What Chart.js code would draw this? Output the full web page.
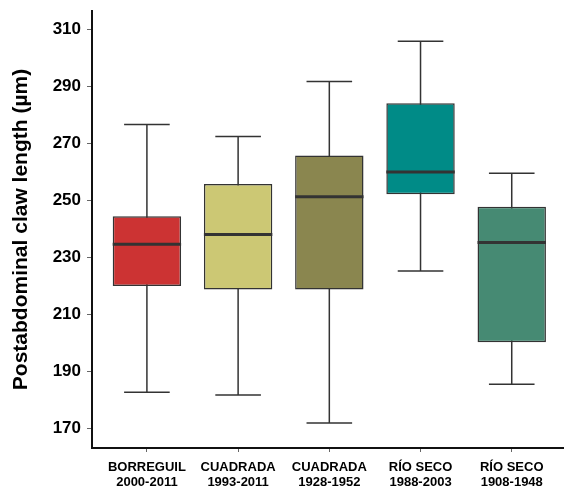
<!DOCTYPE html>
<html>
<head>
<meta charset="utf-8">
<script src="https://cdn.jsdelivr.net/npm/chart.js@4"></script>
<style>
  html, body { margin: 0; padding: 0; background: #fff; }
  #wrap { width: 564px; height: 490px; }
</style>
</head>
<body>
<div id="wrap"><canvas id="chart"></canvas></div>
<script>
// groups (two-line tick labels)
const categories = [
  ["BORREGUIL", "2000-2011"],
  ["CUADRADA", "1993-2011"],
  ["CUADRADA", "1928-1952"],
  ["RÍO SECO", "1988-2003"],
  ["RÍO SECO", "1908-1948"]
];
// box plot statistics
const whiskerLow  = [182.8, 181.8, 172.0, 225.3, 185.6];
const q1          = [220.0, 218.8, 218.8, 252.2, 200.3];
const median      = [234.7, 238.1, 251.3, 260.0, 235.3];
const q3          = [244.5, 255.8, 265.8, 284.1, 247.8];
const whiskerHigh = [276.7, 272.5, 291.8, 305.9, 259.6];
const yTicks = [170, 190, 210, 230, 250, 270, 290, 310];

const boxColors = ["#cc3333", "#ccc874", "#8a864f", "#008b87", "#468a73"];
const lineColor = "#333333";

// draws whiskers, caps and median lines using the chart scales
const boxPlotLines = {
  id: "boxPlotLines",
  beforeDatasetsDraw(chart) {
    const { ctx, scales: { x, y } } = chart;
    const capHalf = (x.getPixelForValue(1.25) - x.getPixelForValue(1));
    ctx.save();
    ctx.strokeStyle = lineColor;
    ctx.lineWidth = 1.5;
    categories.forEach((_, i) => {
      const px = x.getPixelForValue(i + 1);
      const yLow = y.getPixelForValue(whiskerLow[i]);
      const yHigh = y.getPixelForValue(whiskerHigh[i]);
      ctx.beginPath();
      ctx.moveTo(px, yHigh);
      ctx.lineTo(px, yLow);
      ctx.moveTo(px - capHalf, yHigh);
      ctx.lineTo(px + capHalf, yHigh);
      ctx.moveTo(px - capHalf, yLow);
      ctx.lineTo(px + capHalf, yLow);
      ctx.stroke();
    });
    ctx.restore();
  },
  afterDatasetsDraw(chart) {
    const { ctx, scales: { y } } = chart;
    const bars = chart.getDatasetMeta(0).data;
    ctx.save();
    ctx.strokeStyle = lineColor;
    ctx.lineWidth = 3;
    bars.forEach((bar, i) => {
      const py = y.getPixelForValue(median[i]);
      ctx.beginPath();
      ctx.moveTo(bar.x - bar.width / 2, py);
      ctx.lineTo(bar.x + bar.width / 2, py);
      ctx.stroke();
    });
    ctx.restore();
  }
};

const ctx = document.getElementById("chart").getContext("2d");
new Chart(ctx, {
  type: "bar",
  data: {
    datasets: [
      {
        data: categories.map((_, i) => ({ x: i + 1, y: [q1[i], q3[i]] })),
        backgroundColor: boxColors,
        borderColor: lineColor,
        borderWidth: 1.5,
        borderSkipped: false,
        barPercentage: 0.75,
        categoryPercentage: 1
      }
    ]
  },
  options: {
    responsive: true,
    maintainAspectRatio: false,
    animation: false,
    layout: { padding: { top: 11, right: 0, bottom: 0, left: 0 } },
    plugins: {
      legend: { display: false },
      tooltip: { enabled: false }
    },
    scales: {
      x: {
        type: "linear",
        offset: false,
        min: 0.398,
        max: 5.573,
        afterBuildTicks: (s) => {
          s.ticks = categories.map((_, i) => ({ value: i + 1 }));
        },
        afterFit: (s) => {
          s.height = 42;
          s.paddingLeft = 0;
          s.paddingRight = 0;
        },
        ticks: {
          autoSkip: false,
          maxRotation: 0,
          color: "#000",
          padding: 8,
          font: { family: "Arial, 'Liberation Sans'", size: 13, weight: "bold", lineHeight: 1.13 },
          callback: (value, index) => categories[index]
        },
        grid: { offset: false, drawOnChartArea: false, tickLength: 4, color: "#666" },
        border: { color: "#111", width: 2 }
      },
      y: {
        min: 163.2,
        max: 316.5,
        afterBuildTicks: (s) => {
          s.ticks = yTicks.map((v) => ({ value: v }));
        },
        afterFit: (s) => {
          s.width = 92;
          s.paddingTop = 0;
          s.paddingBottom = 0;
        },
        ticks: {
          color: "#000",
          padding: 6,
          font: { family: "Arial, 'Liberation Sans'", size: 17, weight: "bold" }
        },
        grid: { drawOnChartArea: false, tickLength: 5, color: "#666" },
        border: { color: "#111", width: 2 },
        title: {
          display: true,
          text: "Postabdominal claw length (µm)",
          color: "#000",
          font: { family: "Arial, 'Liberation Sans'", size: 21, weight: "bold" },
          padding: { top: 9, bottom: 0 }
        }
      }
    }
  },
  plugins: [boxPlotLines]
});
</script>
</body>
</html>
